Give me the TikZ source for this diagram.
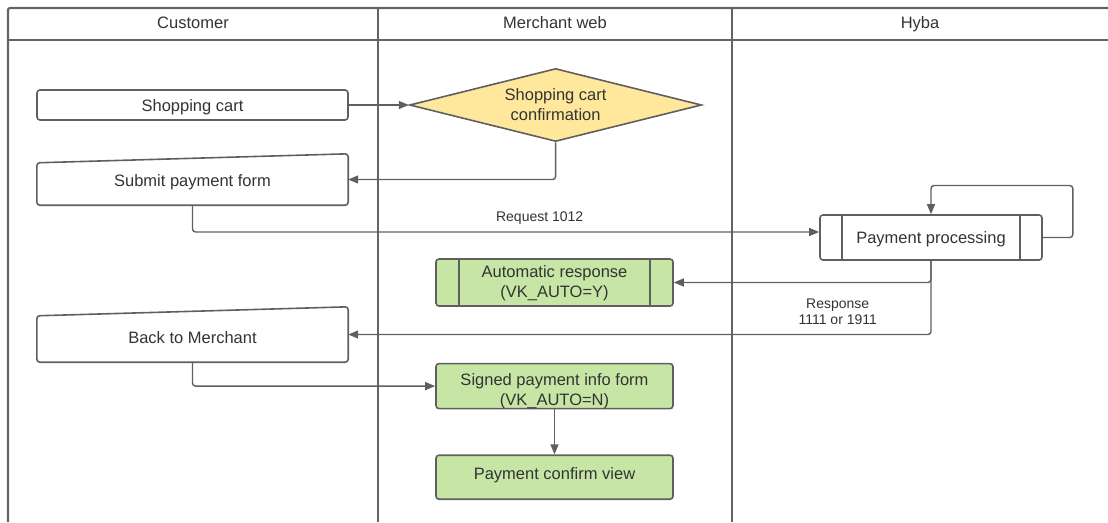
\documentclass[tikz,border=0pt]{standalone}
\usepackage{fontspec}
\setmainfont{Liberation Sans}
\usepackage{tikz}
\usetikzlibrary{arrows.meta,positioning,shapes.geometric,calc}

\definecolor{linegray}{RGB}{95,95,95}
\definecolor{lanegray}{RGB}{100,100,100}
\definecolor{txtgray}{RGB}{51,51,51}
\definecolor{okgreen}{RGB}{199,230,166}
\definecolor{askyellow}{RGB}{255,232,156}

% text with a fixed height, so it sits where it should in its box
\newcommand{\boxtext}[2]{\raisebox{0pt}[#1][0pt]{\begin{tabular}{@{}c@{}}#2\end{tabular}}}

\begin{document}
\begin{tikzpicture}[
  x=1pt, y=-1pt,
  font=\fontsize{16.5}{20}\selectfont, text=txtgray,
  box/.style={rectangle, draw=linegray, line width=1.6pt, rounded corners=3pt, align=center, inner sep=0pt},
  inbox/.style={rectangle, align=center, inner sep=0pt},
  dec/.style={diamond, draw=linegray, line width=1.6pt, fill=askyellow, align=center, inner sep=0pt, aspect=4},
  lane/.style={draw=lanegray, line width=2.2pt},
  lbl/.style={font=\fontsize{14}{16}\selectfont, align=center, inner sep=3pt},
  flow/.style={draw=linegray, line width=1.4pt, rounded corners=3pt, -{Triangle[length=10pt, width=8pt]}}
]
\useasboundingbox (0,0) rectangle (1108,522);

% Lanes
\draw[lane, rounded corners=2pt] (8,522) -- (8,8) -- (1112,8);
\draw[lane] (8,40) -- (1112,40);
\draw[lane] (378,8) -- (378,522);
\draw[lane] (732,8) -- (732,522);
\node[inner sep=0pt] (L_CUST) at (193,22.5) {\boxtext{12pt}{Customer}};
\node[inner sep=0pt] (L_MERCH) at (555,22.5) {\boxtext{12pt}{Merchant web}};
\node[inner sep=0pt] (L_HYBA) at (920,22.5) {\boxtext{12pt}{Hyba}};

% Customer lane
\node[box, minimum width=311pt, minimum height=30pt] (CART) at (192.5,105) {\boxtext{13.6pt}{Shopping cart}};
\node[inbox, below=33pt of CART, minimum width=311pt, minimum height=51pt] (SUBMIT) {\boxtext{14pt}{Submit payment form}};
\draw[linegray, line width=1.6pt, rounded corners=3pt]
  (SUBMIT.south west) -- (SUBMIT.south east) -- (SUBMIT.north east) -- ($(SUBMIT.north west)+(0,9)$) -- cycle;
\node[inbox, minimum width=311pt, minimum height=55pt] (BACK) at (192.5,334.5) {\boxtext{19pt}{Back to Merchant}};
\draw[linegray, line width=1.6pt, rounded corners=3pt]
  (BACK.south west) -- (BACK.south east) -- (BACK.north east) -- ($(BACK.north west)+(0,9)$) -- cycle;

% Merchant web lane
\node[dec, right=60pt of CART, minimum width=292pt, minimum height=73pt] (CONFIRM) {\boxtext{11.6pt}{Shopping cart\\confirmation}};
\node[box, fill=okgreen, minimum width=237pt, minimum height=47pt] (AUTO) at (554.5,282.5) {\boxtext{10.4pt}{Automatic response\\(VK\_AUTO=Y)}};
\draw[linegray, line width=1.6pt] ([xshift=24pt]AUTO.north west) -- ([xshift=24pt]AUTO.south west);
\draw[linegray, line width=1.6pt] ([xshift=-24pt]AUTO.north east) -- ([xshift=-24pt]AUTO.south east);
\node[box, fill=okgreen, below=56pt of AUTO, minimum width=237pt, minimum height=45pt] (SIGNED) {\boxtext{20pt}{Signed payment info form\\(VK\_AUTO=N)}};
\node[box, fill=okgreen, below=45pt of SIGNED, minimum width=237pt, minimum height=44pt] (VIEW) {\boxtext{4.6pt}{Payment confirm view}};

% Hyba lane
\node[box, minimum width=222pt, minimum height=45pt] (PROC) at (931,237.5) {\boxtext{13.4pt}{Payment processing}};
\draw[linegray, line width=1.6pt] ([xshift=23pt]PROC.north west) -- ([xshift=23pt]PROC.south west);
\draw[linegray, line width=1.6pt] ([xshift=-23pt]PROC.north east) -- ([xshift=-23pt]PROC.south east);

% Connectors
\draw[flow] (CART) -- (CONFIRM);
\draw[flow] (CONFIRM.south) |- (SUBMIT.east);
\draw[flow] (SUBMIT.south) |- node[lbl, above=4pt, pos=0.777] {Request 1012} ([yshift=5.5pt]PROC.west);
\draw[flow] (PROC.east) -- ++(30,0) -- ++(0,-52) -| (PROC.north);
\draw[flow] (PROC.south) |- (AUTO.east);
\draw[flow] (PROC.south) |- node[lbl, above=6pt, pos=0.58] {Response\\1111 or 1911} (BACK.east);
\draw[flow] (BACK.south) |- (SIGNED.west);
\draw[flow] (SIGNED) -- (VIEW);

\end{tikzpicture}
\end{document}
